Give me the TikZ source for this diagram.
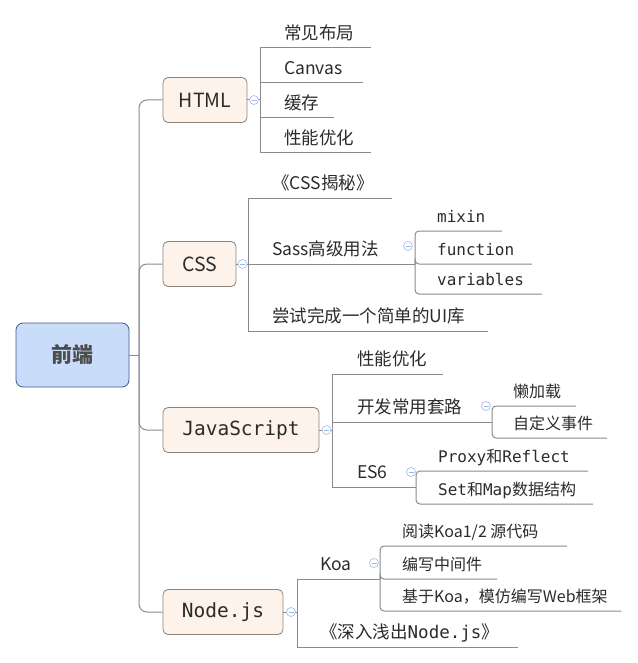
\documentclass[tikz,border=0pt]{standalone}
\usepackage{fontspec}
\setmainfont{Noto Sans CJK SC}
\newfontfamily\monofont{DejaVu Sans Mono}

\definecolor{rootfill}{HTML}{C9DDFA}
\definecolor{rootline}{HTML}{3E5A8C}
\definecolor{boxfill}{HTML}{FDF3EA}
\definecolor{boxline}{HTML}{8C8279}
\definecolor{linegray}{HTML}{8A8A8A}
\definecolor{foldblue}{HTML}{9DB8E8}
\definecolor{txt}{HTML}{2B2B2B}

\begin{document}
\begin{tikzpicture}[x=1pt,y=-1pt,
 ln/.style={linegray, line width=1pt},
 rootbox/.style={draw=rootline, fill=rootfill, rounded corners=7pt, line width=0.8pt, minimum width=113pt, minimum height=64pt, font=\fontsize{21}{21}\selectfont\bfseries, text=black!70},
 topic/.style={draw=boxline, fill=boxfill, rounded corners=5pt, line width=0.8pt, minimum height=45pt, font=\fontsize{19.5}{19.5}\selectfont, text=txt},
 leaf/.style={anchor=west, inner sep=0pt, text height=15.4pt, text depth=2.1pt, font=\fontsize{17.5}{17.5}\selectfont, text=txt},
 subleaf/.style={leaf, text height=14.1pt, text depth=1.9pt, font=\fontsize{16}{16}\selectfont},
 fold/.style={circle, draw=foldblue, fill=white, line width=0.6pt, minimum size=9pt, inner sep=0pt,
  path picture={\draw[foldblue, line width=0.6pt] ([xshift=-2.5pt]path picture bounding box.center) -- ([xshift=2.5pt]path picture bounding box.center);}}
]
\useasboundingbox (0,0) rectangle (637,663);

\node[rootbox] (root) at (72.5,355) {前端};
\node[topic, minimum width=84pt] (html) at (205,100) {HTML};
\node[topic, minimum width=73pt] (css) at (199.5,264) {CSS};
\node[topic, minimum width=156pt] (js) at (241,430) {\monofont JavaScript};
\node[topic, minimum width=120pt] (nodejs) at (223,612) {\monofont Node.js};

\coordinate (jn) at (139,355);
\draw[ln] (root) -- (jn);
\foreach \b in {html,css,js,nodejs}
 \draw[ln, rounded corners=8pt] (jn) |- (\b);

% HTML
\coordinate (hb) at (260,100);
\draw[ln] (html) -- (hb);
\foreach \y/\ex/\lbl [count=\i] in {48/371/常见布局, 83/363/Canvas, 118/334/缓存, 153/371/性能优化} {
 \coordinate (h\i) at (\ex,\y);
 \node[leaf] (hl\i) at (284,\y-15.5) {\lbl};
 \draw[ln] (hb) |- (h\i);
}

% CSS
\coordinate (cb) at (248,264);
\draw[ln] (css) -- (cb);
\foreach \y/\ex/\lbl [count=\i] in {198/392/《CSS揭秘》, 264/415/Sass高级用法, 331/488/尝试完成一个简单的UI库} {
 \coordinate (c\i) at (\ex,\y);
 \node[leaf] (cl\i) at (272,\y-15.5) {\lbl};
 \draw[ln] (cb) |- (c\i);
}
\foreach \y/\ex/\lbl [count=\i] in {231/502/{\monofont mixin}, 264/532/{\monofont function}, 294/542/{\monofont variables}} {
 \coordinate (s\i) at (\ex,\y);
 \node[subleaf] (sl\i) at (437,\y-14.5) {\lbl};
 \draw[ln, rounded corners=4pt] (c2) |- (s\i);
}

% JavaScript
\coordinate (jb) at (332,430);
\draw[ln] (js) -- (jb);
\foreach \y/\ex/\lbl [count=\i] in {374/443/性能优化, 422/492/开发常用套路, 487/416/ES6} {
 \coordinate (j\i) at (\ex,\y);
 \node[leaf] (jl\i) at (357,\y-15.5) {\lbl};
 \draw[ln] (jb) |- (j\i);
}
\foreach \y/\ex/\lbl [count=\i] in {406/576/懒加载, 438/607/自定义事件} {
 \coordinate (d\i) at (\ex,\y);
 \node[subleaf] (dl\i) at (513,\y-14.5) {\lbl};
 \draw[ln, rounded corners=4pt] (j2) |- (d\i);
}
\foreach \y/\ex/\lbl [count=\i] in {471/588/{{\monofont Proxy}和{\monofont Reflect}}, 504/593/{{\monofont Set}和{\monofont Map}数据结构}} {
 \coordinate (e\i) at (\ex,\y);
 \node[subleaf] (el\i) at (438,\y-14.5) {\lbl};
 \draw[ln, rounded corners=4pt] (j3) |- (e\i);
}

% Node.js
\coordinate (nb) at (297,612);
\draw[ln] (nodejs) -- (nb);
\foreach \y/\ex/\lbl [count=\i] in {579/380/Koa, 647/518/{《深入浅出{\monofont Node.js}》}} {
 \coordinate (n\i) at (\ex,\y);
 \node[leaf] (nl\i) at (320,\y-15.5) {\lbl};
 \draw[ln] (nb) |- (n\i);
}
\foreach \y/\ex/\lbl [count=\i] in {546/567/{阅读Koa1/2 源代码}, 579/497/编写中间件, 611/621/基于Koa，模仿编写Web框架} {
 \coordinate (k\i) at (\ex,\y);
 \node[subleaf] (kl\i) at (402,\y-14.5) {\lbl};
 \draw[ln, rounded corners=4pt] (n1) |- (k\i);
}

\node[fold] (hf) at (254,100) {};
\node[fold] (cf) at (242.5,264) {};
\node[fold] (jf) at (326.5,430) {};
\node[fold] (nf) at (291,612) {};
\node[fold] (sf) at (408,246) {};
\node[fold] (df) at (486,406) {};
\node[fold] (ef) at (411,472) {};
\node[fold] (kf) at (374,563) {};
\end{tikzpicture}
\end{document}
